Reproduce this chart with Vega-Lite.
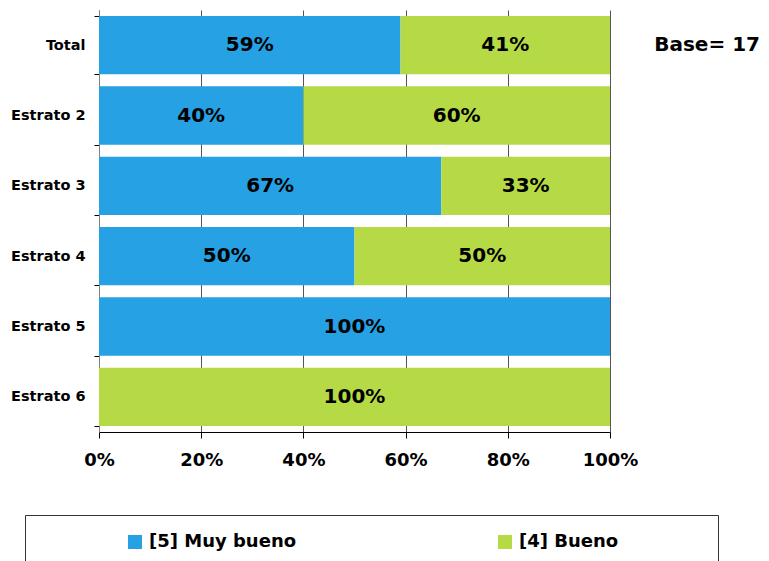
{
  "$schema": "https://vega.github.io/schema/vega-lite/v6.json",
  "width": 511,
  "height": 422,
  "autosize": {"type": "none"},
  "padding": {"left": 99, "top": 10, "right": 159, "bottom": 129},
  "config": {
    "view": {"stroke": null},
    "font": "DejaVu Sans",
    "text": {"font": "DejaVu Sans"}
  },
  "data": {
    "values": [
      {"grupo": "Total", "cat": "[5] Muy bueno", "v": 0.59},
      {"grupo": "Total", "cat": "[4] Bueno", "v": 0.41},
      {"grupo": "Estrato 2", "cat": "[5] Muy bueno", "v": 0.40},
      {"grupo": "Estrato 2", "cat": "[4] Bueno", "v": 0.60},
      {"grupo": "Estrato 3", "cat": "[5] Muy bueno", "v": 0.67},
      {"grupo": "Estrato 3", "cat": "[4] Bueno", "v": 0.33},
      {"grupo": "Estrato 4", "cat": "[5] Muy bueno", "v": 0.50},
      {"grupo": "Estrato 4", "cat": "[4] Bueno", "v": 0.50},
      {"grupo": "Estrato 5", "cat": "[5] Muy bueno", "v": 1.0},
      {"grupo": "Estrato 6", "cat": "[4] Bueno", "v": 1.0}
    ]
  },
  "layer": [
    {
      "mark": {"type": "bar"},
      "encoding": {
        "y": {
          "field": "grupo", "type": "nominal",
          "sort": ["Total", "Estrato 2", "Estrato 3", "Estrato 4", "Estrato 5", "Estrato 6"],
          "scale": {"paddingInner": 0.17, "paddingOuter": 0.085},
          "axis": {
            "title": null, "labelFontSize": 14.5, "labelFontWeight": "bold", "labelColor": "black",
            "labelPadding": 9, "tickSize": 5, "tickColor": "black", "tickBand": "extent",
            "domainColor": "#808080", "grid": false
          }
        },
        "x": {
          "field": "v", "type": "quantitative", "stack": "zero",
          "scale": {"domain": [0, 1]},
          "axis": {
            "title": null, "values": [0, 0.2, 0.4, 0.6, 0.8, 1], "format": ".0%",
            "labelFontSize": 18, "labelFontWeight": "bold", "labelColor": "black",
            "labelPadding": 13, "tickSize": 6, "tickColor": "black", "domainColor": "black",
            "grid": true, "gridColor": "#555555", "gridOpacity": 1, "labelFlush": false
          }
        },
        "color": {
          "field": "cat", "type": "nominal",
          "scale": {"domain": ["[5] Muy bueno", "[4] Bueno"], "range": ["#25A1E4", "#B6D946"]},
          "legend": {
            "orient": "none", "legendX": -74, "legendY": 505, "direction": "horizontal",
            "columns": 2, "columnPadding": 116, "symbolType": "square", "symbolSize": 196,
            "symbolStrokeWidth": 0, "labelFontSize": 18, "labelFontWeight": "bold",
            "labelColor": "black", "labelOffset": 5, "symbolOffset": 83, "labelLimit": 400, "padding": 18,
            "strokeColor": "#333333", "title": " ", "titleOrient": "right", "titlePadding": 82
          }
        },
        "order": {"field": "cat", "sort": "descending"}
      }
    },
    {
      "transform": [
        {"stack": "v", "groupby": ["grupo"], "sort": [{"field": "cat", "order": "descending"}], "as": ["x0", "x1"]},
        {"calculate": "(datum.x0 + datum.x1) / 2", "as": "xm"}
      ],
      "mark": {"type": "text", "fontSize": 20, "fontWeight": "bold", "color": "black"},
      "encoding": {
        "y": {"field": "grupo", "type": "nominal", "sort": ["Total", "Estrato 2", "Estrato 3", "Estrato 4", "Estrato 5", "Estrato 6"]},
        "x": {"field": "xm", "type": "quantitative"},
        "text": {"field": "v", "type": "quantitative", "format": ".0%"}
      }
    },
    {
      "data": {"values": [{"base": "Base= 17", "grupo": "Total", "pos": 1.19}]},
      "mark": {"type": "text", "fontSize": 20, "fontWeight": "bold", "color": "black", "align": "center"},
      "encoding": {
        "y": {"field": "grupo", "type": "nominal", "sort": ["Total", "Estrato 2", "Estrato 3", "Estrato 4", "Estrato 5", "Estrato 6"]},
        "x": {"field": "pos", "type": "quantitative"},
        "text": {"field": "base"}
      }
    }
  ]
}
